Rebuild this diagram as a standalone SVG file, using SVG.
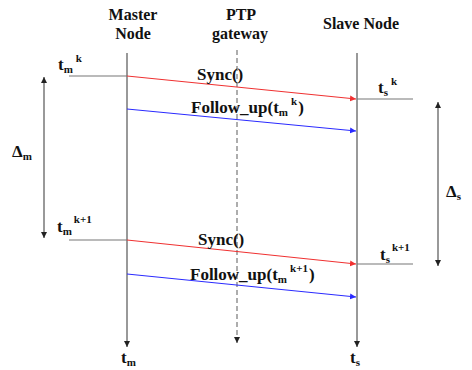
<svg xmlns="http://www.w3.org/2000/svg" width="472" height="370" viewBox="0 0 472 370">
<style>
text{font-family:"Liberation Serif","Times New Roman",serif;font-weight:bold;fill:#111}
.hd{font-size:16px;text-anchor:middle}
.lb{font-size:17px}
.sm{font-size:11px}
.tl{stroke:#555;stroke-width:1.2;fill:none}
.tk{stroke:#777;stroke-width:1.2;fill:none}
.red{stroke:#f03030;stroke-width:1;fill:none}
.blue{stroke:#2a2aff;stroke-width:1;fill:none}
</style>
<defs>
<marker id="ak" markerUnits="userSpaceOnUse" markerWidth="8" markerHeight="8" refX="6" refY="3" orient="auto-start-reverse"><path d="M0,0 L6,3 L0,6 z" fill="#222"/></marker>
<marker id="ar" markerUnits="userSpaceOnUse" markerWidth="8" markerHeight="8" refX="6" refY="3" orient="auto"><path d="M0,0 L6,3 L0,6 z" fill="#f03030"/></marker>
<marker id="ab" markerUnits="userSpaceOnUse" markerWidth="8" markerHeight="8" refX="6" refY="3" orient="auto"><path d="M0,0 L6,3 L0,6 z" fill="#2a2aff"/></marker>
</defs>
<g id="master">
<text class="hd" x="133" y="20">Master</text>
<text class="hd" x="133" y="39">Node</text>
<line class="tl" x1="127" y1="53" x2="127" y2="347" marker-end="url(#ak)"/>
<text class="lb" x="121" y="363">t<tspan class="sm" dy="3">m</tspan></text>
</g>
<g id="gateway">
<text class="hd" x="241" y="20">PTP</text>
<text class="hd" x="240" y="39">gateway</text>
<line x1="237" y1="50" x2="237" y2="343" stroke="#777" stroke-width="1.2" stroke-dasharray="5,3" marker-end="url(#ak)"/>
</g>
<g id="slave">
<text class="hd" x="361" y="29">Slave Node</text>
<line class="tl" x1="357" y1="53" x2="357" y2="347" marker-end="url(#ak)"/>
<text class="lb" x="350" y="363">t<tspan class="sm" dy="3">s</tspan></text>
</g>
<g id="tmk">
<line class="tk" x1="69" y1="76" x2="127" y2="76"/>
<text class="lb" x="58" y="70">t<tspan class="sm" dy="3">m</tspan><tspan class="sm" dx="3" dy="-11">k</tspan></text>
</g>
<g id="tmk1">
<line class="tk" x1="69" y1="240" x2="127" y2="240"/>
<text class="lb" x="57" y="232">t<tspan class="sm" dy="3">m</tspan><tspan class="sm" dx="2" dy="-12">k+1</tspan></text>
</g>
<g id="tsk">
<line class="tk" x1="357" y1="99" x2="413" y2="99"/>
<text class="lb" x="378" y="93">t<tspan class="sm" dy="3">s</tspan><tspan class="sm" dx="3" dy="-11">k</tspan></text>
</g>
<g id="tsk1">
<line class="tk" x1="357" y1="264" x2="413" y2="264"/>
<text class="lb" x="380" y="260">t<tspan class="sm" dy="3">s</tspan><tspan class="sm" dx="2" dy="-12">k+1</tspan></text>
</g>
<g id="delta-m">
<text class="lb" x="12" y="157">Δ<tspan class="sm" dy="3">m</tspan></text>
</g>
<g id="delta-s">
<text class="lb" x="446" y="197">Δ<tspan class="sm" dy="3">s</tspan></text>
</g>
<g id="connectors">
<line class="tl" x1="44" y1="77" x2="44" y2="238" marker-start="url(#ak)" marker-end="url(#ak)"/>
<line class="tl" x1="438" y1="102" x2="438" y2="266" marker-start="url(#ak)" marker-end="url(#ak)"/>
<line class="red" x1="127" y1="76" x2="356" y2="99" marker-end="url(#ar)"/>
<line class="blue" x1="127" y1="109" x2="356" y2="131" marker-end="url(#ab)"/>
<line class="red" x1="127" y1="240" x2="356" y2="264" marker-end="url(#ar)"/>
<line class="blue" x1="127" y1="274" x2="356" y2="297" marker-end="url(#ab)"/>
</g>
<g id="labels">
<text class="lb" x="197" y="80">Sync()</text>
<text class="lb" x="191" y="113">Follow_up(t<tspan class="sm" dy="3">m</tspan><tspan class="sm" dx="3" dy="-11">k</tspan><tspan dx="1" dy="8">)</tspan></text>
<text class="lb" x="198" y="245">Sync()</text>
<text class="lb" x="190" y="280">Follow_up(t<tspan class="sm" dy="3">m</tspan><tspan class="sm" dx="3" dy="-11">k+1</tspan><tspan dx="1" dy="8">)</tspan></text>
</g>
</svg>
